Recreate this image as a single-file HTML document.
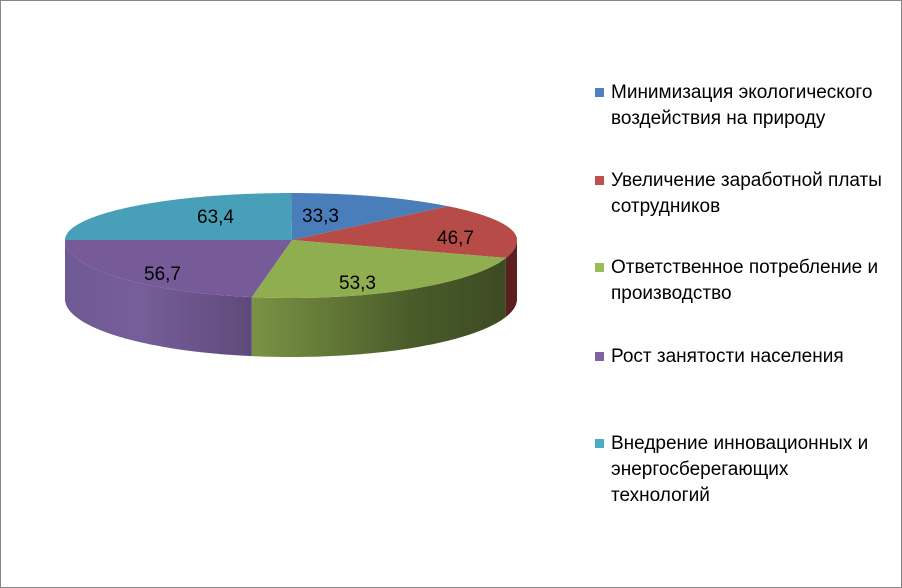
<!DOCTYPE html>
<html><head><meta charset="utf-8"><style>
body{margin:0;background:#fff}
#c{position:absolute;left:0;top:0;width:900px;height:586px;border:1px solid #868686;background:#fff}
.lg{position:absolute;left:611px;font:19px "Liberation Sans","DejaVu Sans",sans-serif;color:#000;line-height:26px;white-space:nowrap}
.sq{position:absolute;left:595px;width:9px;height:9px}
</style></head><body>
<div id="c"></div>
<svg id="s" width="902" height="588" style="position:absolute;left:0;top:0">
<defs>
<linearGradient id="gg" x1="250" x2="517" y1="0" y2="0" gradientUnits="userSpaceOnUse"><stop offset="0" stop-color="#7a9444"/><stop offset="0.6" stop-color="#4a5c2a"/><stop offset="1" stop-color="#3b4822"/></linearGradient>
<linearGradient id="gp" x1="65" x2="251" y1="0" y2="0" gradientUnits="userSpaceOnUse"><stop offset="0" stop-color="#6e5a94"/><stop offset="0.4" stop-color="#765e9a"/><stop offset="1" stop-color="#5e4a7a"/></linearGradient>
</defs>
<g id="g"></g>
<g font-family="Liberation Sans, DejaVu Sans, sans-serif" font-size="19" fill="#000">
<text x="302" y="222">33,3</text>
<text x="437" y="244">46,7</text>
<text x="339" y="289">53,3</text>
<text x="144" y="280">56,7</text>
<text x="197" y="223">63,4</text>
</g>
</svg>
<div class="sq" style="top:88px;background:#4F81BD"></div>
<div class="lg" style="top:80px">Минимизация экологического<br>воздействия на природу</div>
<div class="sq" style="top:176px;background:#C0504D"></div>
<div class="lg" style="top:168px">Увеличение заработной платы<br>сотрудников</div>
<div class="sq" style="top:263px;background:#9BBB59"></div>
<div class="lg" style="top:255px">Ответственное потребление и<br>производство</div>
<div class="sq" style="top:352px;background:#8064A2"></div>
<div class="lg" style="top:344px">Рост занятости населения</div>
<div class="sq" style="top:439px;background:#4BACC6"></div>
<div class="lg" style="top:431px">Внедрение инновационных и<br>энергосберегающих<br>технологий</div>
<script>
var cx=291,cy=240,rx=226,D=59,ax=292,ay=240;
function P(t){var r=t*Math.PI/180,c=Math.cos(r);return [cx+rx*Math.sin(r),cy-(c>0?47:58)*c];}
function arc(a,b,dy){var s=[];var n=Math.max(2,Math.ceil(Math.abs(b-a)));for(var i=0;i<=n;i++){var p=P(a+(b-a)*i/n);s.push(p[0].toFixed(1)+","+(p[1]+dy).toFixed(1));}return s;}
var b=[0,44,108,190,270,360],col=["#4A7EBB","#B64B48","#8FAE50","#775B98","#47A0B8"],side=["","#5a1f1e","url(#gg)","url(#gp)",""];
var h="";
for(var i=0;i<5;i++){var a=Math.max(90,b[i]),e=Math.min(270,b[i+1]);if(e>a){var t=arc(a,e,0),u=arc(e,a,D);h+='<polygon fill="'+side[i]+'" points="'+t.join(" ")+" "+u.join(" ")+'"/>';}}
for(var i=0;i<5;i++){h+='<polygon fill="'+col[i]+'" points="'+ax+","+ay+" "+arc(b[i],b[i+1],0).join(" ")+'"/>';}
document.getElementById("g").innerHTML=h;
</script>
</body></html>
